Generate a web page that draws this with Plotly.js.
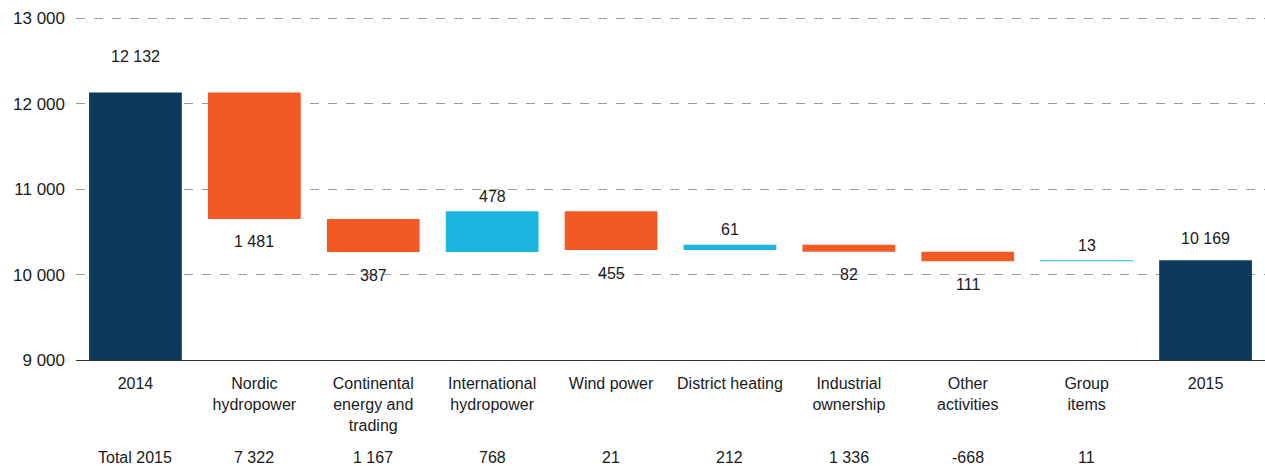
<!DOCTYPE html>
<html>
<head>
<meta charset="utf-8">
<script src="https://cdn.plot.ly/plotly-3.0.1.min.js"></script>
<style>
html,body{margin:0;padding:0;background:#fff;}
#chart{width:1265px;height:466px;}
</style>
</head>
<body>
<div id="chart"></div>
<script>
// ---- data ----
const categories = ["2014","Nordic hydropower","Continental energy and trading","International hydropower","Wind power","District heating","Industrial ownership","Other activities","Group items","2015"];
const tickLabels = ["2014","Nordic<br>hydropower","Continental<br>energy and<br>trading","International<br>hydropower","Wind power","District heating","Industrial<br>ownership","Other<br>activities","Group<br>items","2015"];
const measures = ["absolute","relative","relative","relative","relative","relative","relative","relative","relative","total"];
const values = [12132,-1481,-387,478,-455,61,-82,-111,13,10169];
const rowHeader = "Total 2015";
const total2015 = ["7 322","1 167","768","21","212","1 336","-668","11"];
const yTicks = [9000, 10000, 11000, 12000, 13000];

// ---- helpers ----
function fmt(v){
  const s = Math.round(Math.abs(v)).toString();
  return s.replace(/\B(?=(\d{3})+(?!\d))/g, " ");
}

const NAVY = "#0C3A5D", ORANGE = "#F25A24", CYAN = "#1CB5DF";
const FONT = "Liberation Sans, Arial, sans-serif";
const TXT = "#1a1a1a";
const idx = categories.map((c,i)=>i);

const annotations = [];
let run = 0;
values.forEach((v,i)=>{
  let y, shift;
  if (measures[i] === "absolute" || measures[i] === "total") {
    run = v; y = v; shift = (i === 0) ? 36 : 22;
  } else {
    run = run + v; y = run; shift = (v >= 0) ? 15 : -23;
  }
  annotations.push({
    x: idx[i], y: y, xref: "x", yref: "y",
    text: fmt(values[i]), showarrow: false, yshift: shift,
    yanchor: "middle", font: {family: FONT, size: 16, color: TXT}
  });
});

annotations.push({
  x: idx[0], y: -0.2832, xref: "x", yref: "paper",
  text: rowHeader, showarrow: false, yanchor: "middle",
  font: {family: FONT, size: 16, color: TXT}
});
total2015.forEach((t,i)=>{
  annotations.push({
    x: idx[i+1], y: -0.2832, xref: "x", yref: "paper",
    text: t, showarrow: false, yanchor: "middle",
    font: {family: FONT, size: 16, color: TXT}
  });
});

const trace = {
  type: "waterfall",
  x: idx,
  y: values,
  measure: measures,
  width: 0.78,
  connector: {visible: false},
  increasing: {marker: {color: CYAN}},
  decreasing: {marker: {color: ORANGE}},
  totals: {marker: {color: NAVY}},
  hoverinfo: "none",
  textinfo: "none"
};

const layout = {
  width: 1265, height: 466,
  margin: {l: 76, r: 0, t: 14, b: 106},
  paper_bgcolor: "#fff", plot_bgcolor: "#fff",
  separators: ", ",
  showlegend: false,
  font: {family: FONT, size: 16, color: TXT},
  xaxis: {
    type: "linear",
    range: [-0.5, 9.5],
    tickvals: idx,
    ticktext: tickLabels,
    showgrid: false, zeroline: false,
    showline: true, linecolor: "#333", linewidth: 1,
    ticks: "", ticklabelstandoff: 9,
    tickfont: {family: FONT, size: 16, color: TXT}
  },
  yaxis: {
    range: [9000, 13050],
    tickvals: yTicks,
    tickformat: ",d",
    showgrid: true, gridcolor: "#9a9a9a", griddash: "dash", gridwidth: 1,
    zeroline: false, showline: false, ticks: "",
    ticklabelstandoff: 10,
    tickfont: {family: FONT, size: 17, color: TXT}
  },
  annotations: annotations
};

Plotly.newPlot("chart", [trace], layout, {displayModeBar: false, staticPlot: true});
</script>
</body>
</html>
